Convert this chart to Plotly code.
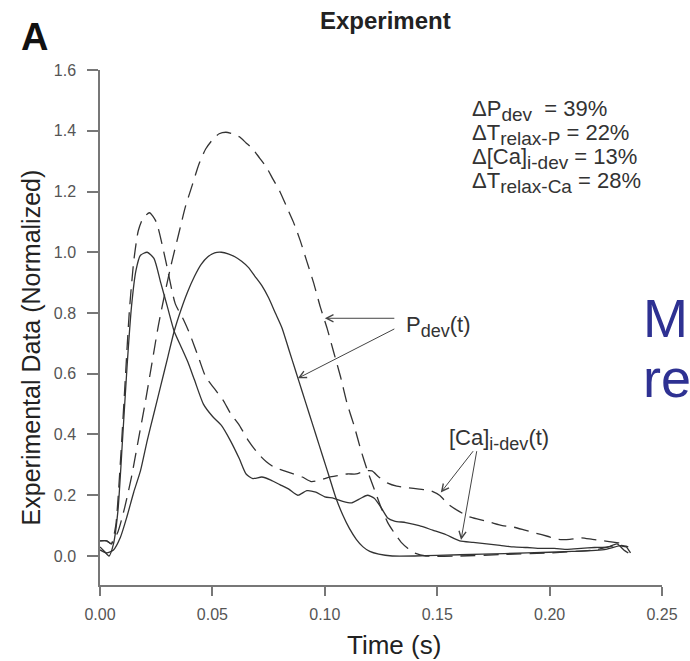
import plotly.graph_objects as go

# ---------------- data ----------------
t_ca_solid = [0.000, 0.002, 0.004, 0.006, 0.008, 0.010, 0.012, 0.014, 0.016, 0.018, 0.021,
              0.024, 0.027, 0.030, 0.033, 0.036, 0.039, 0.042, 0.046, 0.050, 0.054, 0.058,
              0.062, 0.065, 0.068, 0.072, 0.076, 0.080, 0.084, 0.088, 0.092, 0.096, 0.100,
              0.104, 0.108, 0.112, 0.116, 0.119, 0.122, 0.125, 0.128, 0.131, 0.136, 0.142,
              0.148, 0.154, 0.160, 0.166, 0.172, 0.178, 0.184, 0.190, 0.196, 0.202, 0.208,
              0.214, 0.220, 0.226, 0.230, 0.233, 0.235]
ca_solid = [0.03, 0.015, 0.0, 0.04, 0.15, 0.38, 0.62, 0.82, 0.94, 0.99, 1.00,
            0.98, 0.90, 0.82, 0.74, 0.69, 0.64, 0.58, 0.50, 0.46, 0.43, 0.38,
            0.32, 0.27, 0.255, 0.26, 0.25, 0.235, 0.22, 0.20, 0.215, 0.21, 0.195,
            0.19, 0.18, 0.175, 0.19, 0.20, 0.19, 0.16, 0.125, 0.115, 0.11, 0.10,
            0.085, 0.07, 0.05, 0.045, 0.04, 0.035, 0.03, 0.028, 0.025, 0.025, 0.022,
            0.025, 0.028, 0.03, 0.04, 0.02, 0.01]

t_ca_dash = [0.000, 0.003, 0.005, 0.007, 0.009, 0.011, 0.013, 0.015, 0.017, 0.019, 0.022,
             0.025, 0.029, 0.0335, 0.037, 0.040, 0.044, 0.047, 0.051, 0.055, 0.058, 0.062,
             0.066, 0.070, 0.074, 0.078, 0.082, 0.086, 0.090, 0.094, 0.098, 0.102, 0.106,
             0.110, 0.114, 0.118, 0.121, 0.124, 0.128, 0.132, 0.137, 0.142, 0.147, 0.151,
             0.155, 0.159, 0.164, 0.169, 0.174, 0.179, 0.184, 0.189, 0.194, 0.199, 0.204,
             0.209, 0.214, 0.219, 0.224, 0.229, 0.233, 0.236]
ca_dash = [0.05, 0.05, 0.04, 0.10, 0.30, 0.55, 0.80, 0.97, 1.07, 1.11, 1.13,
           1.10, 0.98, 0.83, 0.78, 0.73, 0.65, 0.59, 0.55, 0.51, 0.47, 0.43,
           0.38, 0.34, 0.31, 0.29, 0.28, 0.27, 0.26, 0.245, 0.25, 0.26, 0.265,
           0.27, 0.27, 0.28, 0.28, 0.26, 0.24, 0.23, 0.225, 0.22, 0.215, 0.20,
           0.17, 0.15, 0.13, 0.12, 0.11, 0.10, 0.095, 0.085, 0.075, 0.065, 0.055,
           0.055, 0.06, 0.055, 0.05, 0.045, 0.04, 0.01]

t_p_solid = [0.000, 0.003, 0.006, 0.009, 0.012, 0.015, 0.018, 0.021, 0.024, 0.027, 0.030,
             0.033, 0.036, 0.039, 0.042, 0.045, 0.048, 0.051, 0.054, 0.057, 0.060, 0.063,
             0.066, 0.069, 0.072, 0.075, 0.078, 0.081, 0.084, 0.087, 0.090, 0.093, 0.096,
             0.099, 0.102, 0.105, 0.108, 0.111, 0.114, 0.117, 0.120, 0.124, 0.130, 0.140,
             0.150, 0.170, 0.190, 0.210, 0.225, 0.232, 0.235]
p_solid = [0.02, 0.01, 0.02, 0.06, 0.13, 0.21, 0.28, 0.38, 0.47, 0.56, 0.65,
           0.74, 0.81, 0.87, 0.92, 0.96, 0.985, 0.998, 1.00, 0.995, 0.985, 0.97,
           0.95, 0.92, 0.89, 0.85, 0.80, 0.75, 0.68, 0.61, 0.54, 0.47, 0.40,
           0.33, 0.26, 0.19, 0.135, 0.09, 0.055, 0.03, 0.015, 0.006, 0.0, 0.0,
           0.002, 0.006, 0.01, 0.015, 0.022, 0.035, 0.03]

t_p_dash = [0.000, 0.003, 0.005, 0.008, 0.011, 0.014, 0.017, 0.020, 0.023, 0.026, 0.029,
            0.032, 0.035, 0.038, 0.041, 0.044, 0.047, 0.050, 0.053, 0.056, 0.059, 0.062,
            0.065, 0.068, 0.071, 0.074, 0.077, 0.080, 0.083, 0.086, 0.089, 0.092, 0.095,
            0.098, 0.101, 0.104, 0.107, 0.110, 0.113, 0.116, 0.119, 0.122, 0.125, 0.128,
            0.131, 0.134, 0.137, 0.140, 0.145, 0.160, 0.180, 0.200, 0.220, 0.230, 0.234]
p_dash = [0.05, 0.05, 0.04, 0.08, 0.16, 0.26, 0.38, 0.50, 0.63, 0.76, 0.87,
          0.97, 1.06, 1.15, 1.22, 1.29, 1.34, 1.37, 1.39, 1.395, 1.39, 1.38,
          1.36, 1.34, 1.31, 1.28, 1.24, 1.20, 1.15, 1.10, 1.04, 0.97, 0.90,
          0.82, 0.75, 0.67, 0.59, 0.50, 0.43, 0.35, 0.28, 0.22, 0.16, 0.11,
          0.075, 0.045, 0.025, 0.01, 0.0, 0.0, 0.005, 0.01, 0.02, 0.035, 0.03]

x_ticks = [0.00, 0.05, 0.10, 0.15, 0.20, 0.25]
y_ticks = [0.0, 0.2, 0.4, 0.6, 0.8, 1.0, 1.2, 1.4, 1.6]

SUB = "<sub><span style='font-size:19px'>{}</span></sub>"
delta_lines = ["ΔP" + SUB.format("dev") + "  = 39%",
               "ΔT" + SUB.format("relax-P") + " = 22%",
               "Δ[Ca]" + SUB.format("i-dev") + " = 13%",
               "ΔT" + SUB.format("relax-Ca") + " = 28%"]
SUB2 = "<sub><span style='font-size:18px'>{}</span></sub>"
p_label = "P" + SUB2.format("dev") + "(t)"
ca_label = "[Ca]" + SUB2.format("i-dev") + "(t)"

FONT = "Liberation Sans, Arial, Helvetica, sans-serif"
LC = "#333333"

fig = go.Figure()
for tx, ty, dash in [(t_ca_solid, ca_solid, "solid"), (t_ca_dash, ca_dash, "15px,8px"),
                     (t_p_solid, p_solid, "solid"), (t_p_dash, p_dash, "15px,8px")]:
    fig.add_trace(go.Scatter(x=tx, y=ty, mode="lines",
                             line=dict(color=LC, width=1.3, dash=dash, shape="spline", smoothing=0.6),
                             showlegend=False, hoverinfo="skip"))

annotations = []
# delta text block
delta_y = [1.468, 1.389, 1.310, 1.231]
for txt, yy in zip(delta_lines, delta_y):
    annotations.append(dict(x=0.1645, y=yy, xref="x", yref="y", text=txt, showarrow=False,
                            xanchor="left", yanchor="middle",
                            font=dict(family=FONT, size=22, color="#333")))
# labels
annotations.append(dict(x=0.1353, y=0.755, xref="x", yref="y", text=p_label,
                        showarrow=False, xanchor="left", yanchor="middle",
                        font=dict(family=FONT, size=22, color="#333")))
annotations.append(dict(x=0.1545, y=0.385, xref="x", yref="y", text=ca_label,
                        showarrow=False, xanchor="left", yanchor="middle",
                        font=dict(family=FONT, size=22, color="#333")))
# arrows
for (tipx, tipy, tailx, taily) in [(0.100, 0.7826, 0.1316, 0.7826),
                                   (0.088, 0.585, 0.1316, 0.75),
                                   (0.1516, 0.209, 0.1665, 0.35),
                                   (0.1606, 0.053, 0.1677, 0.35)]:
    annotations.append(dict(x=tipx, y=tipy, xref="x", yref="y", ax=tailx, ay=taily,
                            axref="x", ayref="y", text="", showarrow=True,
                            arrowhead=5, arrowsize=1.4, arrowwidth=1, arrowcolor="#444"))
# titles
annotations.append(dict(x=0.508, y=1.097, xref="paper", yref="paper", text="<b>Experiment</b>",
                        showarrow=False, xanchor="center", yanchor="middle",
                        font=dict(family=FONT, size=24, color="#222")))
annotations.append(dict(x=-0.117, y=1.064, xref="paper", yref="paper", text="<b>A</b>",
                        showarrow=False, xanchor="center", yanchor="middle",
                        font=dict(family=FONT, size=38, color="#111")))
annotations.append(dict(x=0.5236, y=-0.1165, xref="paper", yref="paper", text="Time (s)",
                        showarrow=False, xanchor="center", yanchor="middle",
                        font=dict(family=FONT, size=26, color="#222")))
annotations.append(dict(x=-0.1222, y=0.462, xref="paper", yref="paper",
                        text="Experimental Data (Normalized)", textangle=-90,
                        showarrow=False, xanchor="center", yanchor="middle",
                        font=dict(family=FONT, size=25, color="#222")))
# blue text at right edge
annotations.append(dict(x=(652 - 100) / 573, y=(585 - 318) / 515, xref="paper", yref="paper",
                        text="M", showarrow=False, xanchor="left", yanchor="middle",
                        font=dict(family=FONT, size=54, color="#2E3192")))
annotations.append(dict(x=(652 - 100) / 573, y=(585 - 378) / 515, xref="paper", yref="paper",
                        text="re", showarrow=False, xanchor="left", yanchor="middle",
                        font=dict(family=FONT, size=54, color="#2E3192")))

fig.update_layout(
    width=690, height=661,
    margin=dict(l=100, r=17, t=70, b=76),
    paper_bgcolor="white", plot_bgcolor="white",
    annotations=annotations,
    xaxis=dict(range=[0, 0.25], tickvals=x_ticks, tickformat=".2f",
               showline=True, linecolor="#777", linewidth=1.5,
               ticks="outside", ticklen=9, tickcolor="#777", tickwidth=1.5,
               showgrid=False, zeroline=False, ticklabelstandoff=5,
               tickfont=dict(family=FONT, size=16, color="#555")),
    yaxis=dict(range=[-0.0955, 1.6], tickvals=y_ticks, tickformat=".1f",
               showline=True, linecolor="#777", linewidth=1.5,
               ticks="outside", ticklen=11, tickcolor="#777", tickwidth=1.5,
               showgrid=False, zeroline=False, ticklabelstandoff=8,
               tickfont=dict(family=FONT, size=16, color="#555")),
)

fig.write_html("out.html")
